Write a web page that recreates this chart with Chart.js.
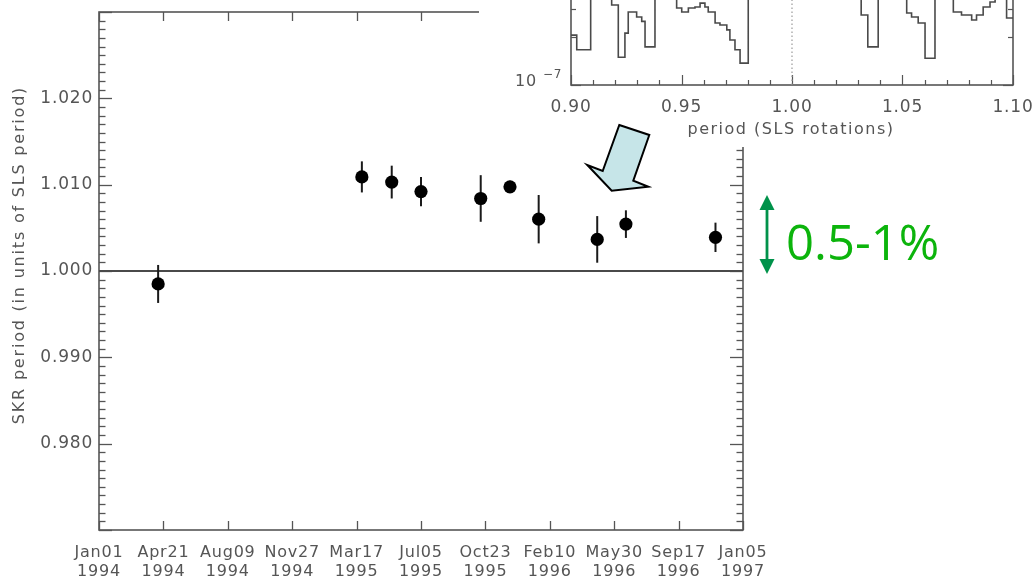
<!DOCTYPE html>
<html><head><meta charset="utf-8">
<script src="https://cdn.jsdelivr.net/npm/chart.js@4/dist/chart.umd.min.js"></script>
<style>
html,body{margin:0;padding:0;background:#fff;overflow:hidden;width:1034px;height:583px;}
#wrap{position:relative;width:1034px;height:583px;overflow:hidden;background:#fff;}
#main{position:absolute;left:0;top:0;}
#inset{position:absolute;left:479px;top:-240px;}
</style></head><body>
<div id="wrap">
<canvas id="main" width="1034" height="583"></canvas>
<canvas id="inset" width="555" height="440"></canvas>
</div>
<script>
// ---------------- data ----------------
const obsDates   = ['1994-04-12','1995-03-26','1995-05-16','1995-07-05','1995-10-15','1995-12-04','1996-01-22','1996-05-01','1996-06-19','1996-11-19'];
const skrPeriod  = [0.9985, 1.0109, 1.0103, 1.0092, 1.0084, 1.00975, 1.0060, 1.00366, 1.00543, 1.0039];
const skrError   = [0.0022, 0.0018, 0.0019, 0.0017, 0.0027, 0.0007, 0.0028, 0.0027, 0.0016, 0.0017];
const xTickDays  = [0, 110, 220, 330, 440, 550, 660, 770, 880, 990, 1100];
const xTickLabels = [['Jan01','1994'],['Apr21','1994'],['Aug09','1994'],['Nov27','1994'],['Mar17','1995'],['Jul05','1995'],['Oct23','1995'],['Feb10','1996'],['May30','1996'],['Sep17','1996'],['Jan05','1997']];
const yTickValues = [0.980, 0.990, 1.000, 1.010, 1.020];
const slsReference = 1.000;

// inset: power spectrum (step histogram)
const insetBinEdges = [0.9000,0.9026,0.9089,0.9184,0.9214,0.9244,0.9259,0.9297,0.9320,0.9335,0.9380,0.9478,0.9501,0.9531,0.9561,0.9584,0.9606,0.9621,0.9652,0.9674,0.9705,0.9719,0.9742,0.9765,0.9802,0.9840,0.9900,0.9960,1.0040,1.0120,1.0200,1.0313,1.0343,1.0390,1.0519,1.0541,1.0571,1.0602,1.0647,1.0730,1.0767,1.0813,1.0835,1.0865,1.0896,1.0919,1.0971,1.1000];
const insetPower = [2.05e-7,1.66e-7,6.0e-7,3.16e-7,1.49e-7,2.11e-7,2.86e-7,2.66e-7,2.50e-7,1.73e-7,4.2e-7,3.03e-7,2.86e-7,3.03e-7,3.07e-7,3.25e-7,3.07e-7,2.86e-7,2.44e-7,2.37e-7,2.21e-7,1.91e-7,1.66e-7,1.37e-7,3.6e-7,7.0e-7,2.0e-6,4.0e-6,2.5e-6,1.2e-6,7.0e-7,2.74e-7,1.73e-7,6.0e-7,2.82e-7,2.66e-7,2.44e-7,1.47e-7,5.0e-7,2.86e-7,2.74e-7,2.55e-7,2.74e-7,3.07e-7,3.30e-7,4.5e-7,2.62e-7];
const insetTickValues = [0.90, 0.95, 1.00, 1.05, 1.10];

// ---------------- styling ----------------
const AX = '#555555';
const FONT = 'DejaVu Sans';
const yMin = 0.970, yMax = 1.030;

const days = obsDates.map(d => {
  const [yy, mm, dd] = d.split('-').map(Number);
  return (Date.UTC(yy, mm - 1, dd) - Date.UTC(1994, 0, 1)) / 86400000;
});

function seg(ctx, x1, y1, x2, y2) { ctx.beginPath(); ctx.moveTo(x1, y1); ctx.lineTo(x2, y2); ctx.stroke(); }
function noPad(s) { s.paddingTop = 0; s.paddingBottom = 0; s.paddingLeft = 0; s.paddingRight = 0; }

const mainPlugin = {
  id: 'mainDecor',
  beforeDraw(chart) {
    const ctx = chart.ctx;
    ctx.save(); ctx.fillStyle = '#fff'; ctx.fillRect(0, 0, chart.width, chart.height); ctx.restore();
    ctx.letterSpacing = '0.8px';
  },
  beforeDatasetsDraw(chart) {
    const ctx = chart.ctx, {left, right, top, bottom} = chart.chartArea;
    const xs = chart.scales.x, ys = chart.scales.y;
    ctx.save();
    ctx.strokeStyle = AX; ctx.lineWidth = 1.6;
    ctx.strokeRect(left, top, right - left, bottom - top);
    ctx.lineWidth = 1.3;
    for (let i = 0; i <= 60; i++) {
      const v = yMin + i * 0.001;
      const py = Math.round(ys.getPixelForValue(v)) + 0.5;
      const len = (i % 10 === 0) ? 13 : 6.5;
      seg(ctx, left, py, left + len, py);
      seg(ctx, right, py, right - len, py);
    }
    xTickDays.forEach(d => {
      const px = Math.round(xs.getPixelForValue(d)) + 0.5;
      seg(ctx, px, bottom, px, bottom - 9);
      seg(ctx, px, top, px, top + 9);
    });
    // reference line
    ctx.lineWidth = 1.8; ctx.strokeStyle = '#4a4a4a';
    const yr = ys.getPixelForValue(slsReference);
    seg(ctx, left, yr, right, yr);
    // error bars
    ctx.strokeStyle = '#1a1a1a'; ctx.lineWidth = 2;
    days.forEach((d, i) => {
      const px = xs.getPixelForValue(d);
      seg(ctx, px, ys.getPixelForValue(skrPeriod[i] + skrError[i]), px, ys.getPixelForValue(skrPeriod[i] - skrError[i]));
    });
    // y title
    ctx.fillStyle = AX; ctx.font = '16px "' + FONT + '"';
    ctx.letterSpacing = '1.8px';
    ctx.textAlign = 'center'; ctx.textBaseline = 'middle';
    ctx.translate(20, (top + bottom) / 2 - 16); ctx.rotate(-Math.PI / 2);
    ctx.fillText('SKR period (in units of SLS period)', 0, 0);
    ctx.restore();
  },
  afterDraw(chart) {
    const ctx = chart.ctx;
    ctx.save();
    ctx.letterSpacing = '0px';
    // green double arrow
    const ax = 767, yTop = 195, yBot = 274;
    ctx.strokeStyle = '#00924a'; ctx.fillStyle = '#00924a'; ctx.lineWidth = 2.8;
    seg(ctx, ax, yTop + 10, ax, yBot - 10);
    ctx.beginPath(); ctx.moveTo(ax, yTop); ctx.lineTo(ax + 7.5, yTop + 15); ctx.lineTo(ax - 7.5, yTop + 15); ctx.closePath(); ctx.fill();
    ctx.beginPath(); ctx.moveTo(ax, yBot); ctx.lineTo(ax + 7.5, yBot - 15); ctx.lineTo(ax - 7.5, yBot - 15); ctx.closePath(); ctx.fill();
    ctx.fillStyle = '#0cb40c'; ctx.font = '49px "Open Sans"';
    ctx.textAlign = 'left'; ctx.textBaseline = 'alphabetic';
    ctx.fillText('0.5-1%', 786, 260);
    ctx.restore();
  }
};

new Chart(document.getElementById('main'), {
  type: 'scatter',
  data: { datasets: [{
    data: days.map((d, i) => ({x: d, y: skrPeriod[i]})),
    backgroundColor: '#000', borderColor: '#000', borderWidth: 0,
    pointRadius: 6.6, pointHoverRadius: 6.6
  }]},
  options: {
    responsive: false, animation: false, devicePixelRatio: 1, events: [],
    layout: { padding: { left: 0, top: 12, right: 291, bottom: 0 } },
    plugins: { legend: { display: false }, tooltip: { enabled: false } },
    scales: {
      x: {
        type: 'linear', min: 0, max: 1100,
        afterBuildTicks: s => { s.ticks = xTickDays.map(v => ({value: v})); },
        afterFit: s => { s.height = 53; noPad(s); },
        grid: { display: false, drawTicks: false }, border: { display: false },
        ticks: { callback: (v, i) => xTickLabels[i], color: AX, font: { family: FONT, size: 16, lineHeight: 1.2 }, padding: 13, maxRotation: 0, autoSkip: false }
      },
      y: {
        type: 'linear', min: yMin, max: yMax,
        afterBuildTicks: s => { s.ticks = yTickValues.map(v => ({value: v})); },
        afterFit: s => { s.width = 99; noPad(s); },
        grid: { display: false, drawTicks: false }, border: { display: false },
        ticks: { callback: v => v.toFixed(3), color: AX, font: { family: FONT, size: 17 }, padding: 6 }
      }
    }
  },
  plugins: [mainPlugin]
});

// ---------------- inset ----------------
const histPoints = insetPower.map((p, i) => ({x: insetBinEdges[i], y: p}));
histPoints.push({x: insetBinEdges[insetBinEdges.length - 1], y: insetPower[insetPower.length - 1]});
const INSET_DX = 479, INSET_DY = -240;

const insetPlugin = {
  id: 'insetDecor',
  beforeDraw(chart) {
    const ctx = chart.ctx;
    ctx.save(); ctx.fillStyle = '#fff'; ctx.fillRect(0, 0, chart.width, 147 - INSET_DY); ctx.restore();
    ctx.letterSpacing = '0.8px';
  },
  beforeDatasetsDraw(chart) {
    const ctx = chart.ctx, {left, right, top, bottom} = chart.chartArea;
    const xs = chart.scales.x, ys = chart.scales.y;
    ctx.save();
    ctx.strokeStyle = AX; ctx.lineWidth = 1.6;
    ctx.strokeRect(left, top, right - left, bottom - top);
    ctx.lineWidth = 1.2;
    for (let i = 0; i <= 20; i++) {
      const v = 0.90 + i * 0.01;
      const px = Math.round(xs.getPixelForValue(v)) + 0.5;
      const len = (i % 5 === 0) ? 10 : 5;
      seg(ctx, px, bottom, px, bottom - len);
      seg(ctx, px, top, px, top + len);
    }
    for (let dec = -7; dec <= -6; dec++) {
      for (let m = 1; m <= 9; m++) {
        const v = m * Math.pow(10, dec);
        const py = Math.round(ys.getPixelForValue(v)) + 0.5;
        const len = (m === 1) ? 10 : 5;
        seg(ctx, left, py, left + len, py);
        seg(ctx, right, py, right - len, py);
      }
    }
    // dotted line at 1.00
    ctx.strokeStyle = '#9a9a9a'; ctx.lineWidth = 1.2; ctx.setLineDash([1.5, 2.5]);
    const p1 = xs.getPixelForValue(1.00);
    seg(ctx, p1, bottom, p1, top);
    ctx.setLineDash([]);
    // 10^-7 label
    const yb = ys.getPixelForValue(1e-7);
    ctx.fillStyle = AX; ctx.textBaseline = 'alphabetic';
    ctx.font = '16px "' + FONT + '"'; ctx.textAlign = 'right';
    ctx.fillText('10', left - 34, yb + 1);
    ctx.font = '12px "' + FONT + '"'; ctx.textAlign = 'left';
    ctx.fillText('\u22127', left - 28, yb - 7);
    // x title
    ctx.font = '16px "' + FONT + '"'; ctx.textAlign = 'center'; ctx.textBaseline = 'middle';
    ctx.letterSpacing = '1.5px';
    ctx.fillText('period (SLS rotations)', (left + right) / 2 - 1, bottom + 45);
    ctx.restore();
  },
  afterDraw(chart) {
    const ctx = chart.ctx;
    const pts = [[619.3,125],[649.3,135],[633.3,180.7],[648.3,186.7],[611.7,190.7],[587.3,165],[602.7,171]];
    ctx.save();
    ctx.beginPath();
    pts.forEach(([x, y], i) => { const cx = x - INSET_DX, cy = y - INSET_DY; i ? ctx.lineTo(cx, cy) : ctx.moveTo(cx, cy); });
    ctx.closePath();
    ctx.fillStyle = '#c6e5e8'; ctx.fill();
    ctx.strokeStyle = '#000'; ctx.lineWidth = 2; ctx.lineJoin = 'miter'; ctx.stroke();
    ctx.restore();
  }
};

new Chart(document.getElementById('inset'), {
  type: 'line',
  data: { datasets: [{ data: histPoints, stepped: true, borderColor: '#4a4a4a', borderWidth: 1.6, pointRadius: 0, fill: false }] },
  options: {
    responsive: false, animation: false, devicePixelRatio: 1, events: [],
    layout: { padding: { left: 0, right: 21, top: 5, bottom: 0 } },
    plugins: { legend: { display: false }, tooltip: { enabled: false } },
    scales: {
      x: {
        type: 'linear', min: 0.90, max: 1.10,
        afterBuildTicks: s => { s.ticks = insetTickValues.map(v => ({value: v})); },
        afterFit: s => { s.height = 115; noPad(s); },
        grid: { display: false, drawTicks: false }, border: { display: false },
        ticks: { callback: v => v.toFixed(2), color: AX, font: { family: FONT, size: 17 }, padding: 12, maxRotation: 0, autoSkip: false }
      },
      y: {
        type: 'logarithmic', min: 1e-7, max: 1e-5,
        afterFit: s => { s.width = 92; noPad(s); },
        grid: { display: false, drawTicks: false }, border: { display: false },
        ticks: { display: false }
      }
    }
  },
  plugins: [insetPlugin]
});
</script>
</body></html>
